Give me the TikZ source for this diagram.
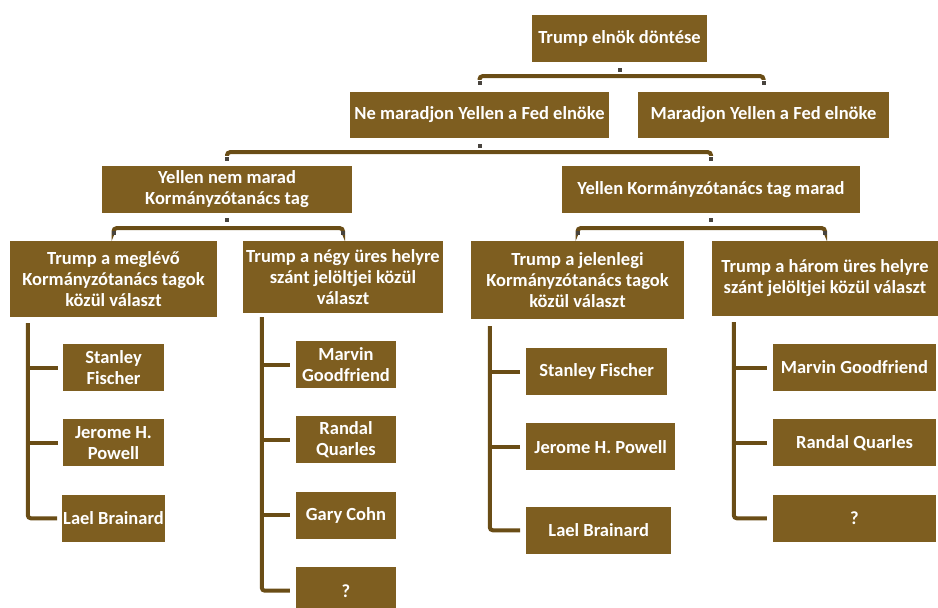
\documentclass[tikz,border=0pt]{standalone}
\usepackage{fontspec}
\setmainfont{Carlito}
\usepackage{xcolor}
\usetikzlibrary{positioning}
\definecolor{fedbrown}{RGB}{126,94,32}
\definecolor{linkbrown}{RGB}{106,77,22}
\definecolor{markgray}{RGB}{72,68,62}

\begin{document}
\begin{tikzpicture}[x=1pt, y=-1pt, node distance=28pt, font=\bfseries\fontsize{18.5}{21}\selectfont]
    \tikzstyle{box}=[rectangle, fill=fedbrown, text=white, inner sep=1pt, align=center]
    \tikzstyle{leaf}=[box, minimum height=47pt]
    \tikzstyle{link}=[draw=linkbrown, line width=4pt, rounded corners=3pt]
    \tikzstyle{dot}=[rectangle, fill=markgray, minimum size=4pt, inner sep=0pt]

    \useasboundingbox (0,0) rectangle (938,608);

    \node[box, minimum width=175pt, minimum height=47pt] (root) at (619.5,38.5) {Trump elnök döntése};
    \node[box, minimum width=259pt, minimum height=46pt] (nofed) at (479.5,115) {Ne maradjon Yellen a Fed elnöke};
    \node[box, minimum width=251pt, minimum height=46pt] (fed) at (763.5,115) {Maradjon Yellen a Fed elnöke};
    \node[box, minimum width=250pt, minimum height=47pt] (nogov) at (227,189.5) {Yellen nem marad\\Kormányzótanács tag};
    \node[box, minimum width=298pt, minimum height=47pt] (gov) at (711,189.5) {Yellen Kormányzótanács tag marad};
    \node[box, minimum width=207pt, minimum height=76pt] (ga) at (113.5,279) {Trump a meglévő\\Kormányzótanács tagok\\közül választ};
    \node[box, minimum width=200pt, minimum height=72pt] (gb) at (343,277) {Trump a négy üres helyre\\szánt jelöltjei közül\\választ};
    \node[box, minimum width=213pt, minimum height=78pt] (gc) at (577.5,280) {Trump a jelenlegi\\Kormányzótanács tagok\\közül választ};
    \node[box, minimum width=226pt, minimum height=75pt] (gd) at (825,278.5) {Trump a három üres helyre\\szánt jelöltjei közül választ};

    \node[leaf, minimum width=101pt] (a1) at (113.5,367.5) {Stanley\\Fischer};
    \node[leaf, minimum width=101pt, below=of a1] (a2) {Jerome H.\\Powell};
    \node[leaf, minimum width=101pt, below=of a2] (a3) {Lael Brainard};

    \node[leaf, minimum width=100pt] (b1) at (346,364.5) {Marvin\\Goodfriend};
    \node[leaf, minimum width=100pt, below=of b1] (b2) {Randal\\Quarles};
    \node[leaf, minimum width=100pt, below=of b2] (b3) {Gary Cohn};
    \node[leaf, minimum width=100pt, below=of b3] (b4) {?};

    \node[leaf, minimum width=141pt, anchor=west] (c1) at (526,371.5) {Stanley Fischer};
    \node[leaf, minimum width=149pt, below=28pt of c1.south west, anchor=north west] (c2) {Jerome H. Powell};
    \node[leaf, minimum width=145pt, below=36pt of c2.south west, anchor=north west] (c3) {Lael Brainard};

    \node[leaf, minimum width=163pt] (d1) at (854.5,367.5) {Marvin Goodfriend};
    \node[leaf, minimum width=163pt, below=of d1] (d2) {Randal Quarles};
    \node[leaf, minimum width=163pt, below=of d2] (d3) {?};

    % brackets between the levels
    \draw[link] ([yshift=12pt]nofed.north) |- ([yshift=-14pt]root.south) -| ([yshift=12pt]fed.north);
    \draw[link] ([yshift=10pt]nogov.north) |- ([yshift=-14pt]nofed.south) -| ([yshift=10pt]gov.north);
    \draw[link] ([yshift=10pt]ga.north) |- ([yshift=-15pt]nogov.south) -| ([yshift=10pt]gb.north);
    \draw[link] ([yshift=10pt]gc.north) |- ([yshift=-15pt]gov.south) -| ([yshift=10pt]gd.north);

    \node[dot] (m0) at ([yshift=-8pt]root.south) {};
    \node[dot] (m1) at ([yshift=9pt]nofed.north) {};
    \node[dot] (m2) at ([yshift=9pt]fed.north) {};
    \node[dot] (m3) at ([yshift=-8pt]nofed.south) {};
    \node[dot] (m4) at ([yshift=7pt]nogov.north) {};
    \node[dot] (m5) at ([yshift=7pt]gov.north) {};
    \node[dot] (m6) at ([yshift=-7pt]nogov.south) {};
    \node[dot] (m7) at ([yshift=8pt]ga.north) {};
    \node[dot] (m8) at ([yshift=8pt]gb.north) {};
    \node[dot] (m9) at ([yshift=-7pt]gov.south) {};
    \node[dot] (m10) at ([yshift=8pt]gc.north) {};
    \node[dot] (m11) at ([yshift=8pt]gd.north) {};

    % candidate lists
    \draw[link] ([xshift=18pt,yshift=-6pt]ga.south west) |- ([xshift=-5pt]a3.west);
    \foreach \n in {a1,a2} \draw[link] ([xshift=-5pt]\n.west) -- ++(-28,0);
    \draw[link] ([xshift=19pt,yshift=-4pt]gb.south west) |- ([xshift=-6pt]b4.west);
    \foreach \n in {b1,b2,b3} \draw[link] ([xshift=-6pt]\n.west) -- ++(-26,0);
    \draw[link] ([xshift=19pt,yshift=-7pt]gc.south west) |- ([xshift=-6pt]c3.west);
    \foreach \n in {c1,c2} \draw[link] ([xshift=-6pt]\n.west) -- ++(-28,0);
    \draw[link] ([xshift=22pt,yshift=-6pt]gd.south west) |- ([xshift=-6pt]d3.west);
    \foreach \n in {d1,d2} \draw[link] ([xshift=-6pt]\n.west) -- ++(-31,0);
\end{tikzpicture}
\end{document}
